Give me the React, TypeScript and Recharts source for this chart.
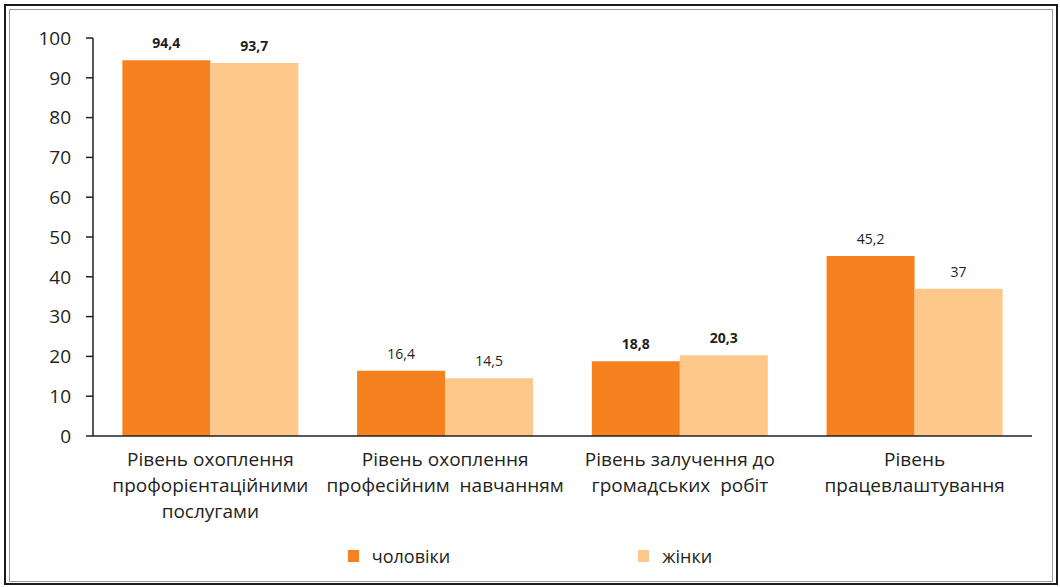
import React from 'react';
import { BarChart, Bar, XAxis, YAxis, LabelList, Legend } from 'recharts';

const categories = [
  'Рівень охоплення профорієнтаційними послугами',
  'Рівень охоплення професійним навчанням',
  'Рівень залучення до громадських робіт',
  'Рівень працевлаштування',
];
const categoryLines = [
  ['Рівень охоплення', 'профорієнтаційними', 'послугами'],
  ['Рівень охоплення', 'професійним  навчанням'],
  ['Рівень залучення до', 'громадських  робіт'],
  ['Рівень', 'працевлаштування'],
];
const men = [94.4, 16.4, 18.8, 45.2];
const women = [93.7, 14.5, 20.3, 37];
const yTicks = [0, 10, 20, 30, 40, 50, 60, 70, 80, 90, 100];
const boundaryTicks = [0, 1, 2, 3, 4];
// the source prints the labels of these groups in bold
const boldGroups = [0, 2];

const MEN_COLOR = '#f5821f';
const WOMEN_COLOR = '#fdc88a';
const INK = '#231f20';
const FONT = '"Open Sans", "Noto Sans", sans-serif';

const data = categories.map((name, i) => ({ name, idx: i, men: men[i], women: women[i] }));

const fmt = (v: number) => String(v).replace('.', ',');

const CategoryTick = (props: any) => {
  const { x, y, index } = props;
  const lines = categoryLines[index] || [];
  return (
    <text x={x} y={y} textAnchor="middle" fill={INK} fontSize={19} fontFamily={FONT}>
      {lines.map((l, i) => (
        <tspan key={i} x={x} dy={i === 0 ? 14 : 26} style={{ whiteSpace: 'pre' }}>
          {l}
        </tspan>
      ))}
    </text>
  );
};

const makeLabel = (dataKey: 'men' | 'women') => (props: any) => {
  const { x, y, width, index } = props;
  const v = data[index][dataKey];
  return (
    <text
      x={x + width / 2}
      y={y - 12}
      textAnchor="middle"
      fill={INK}
      fontSize={14}
      fontFamily={FONT}
      fontWeight={boldGroups.includes(index) ? 700 : 400}
    >
      {fmt(v)}
    </text>
  );
};

const LegendContent = () => (
  <div style={{ display: 'flex', justifyContent: 'center', fontFamily: FONT, fontSize: 18, color: INK }}>
    {[
      { label: 'чоловіки', color: MEN_COLOR },
      { label: 'жінки', color: WOMEN_COLOR },
    ].map((it, i) => (
      <div key={it.label} style={{ display: 'flex', alignItems: 'center', marginRight: i === 0 ? 188 : 0 }}>
        <span style={{ width: 11, height: 12, background: it.color, display: 'inline-block', marginRight: 13 }} />
        <span>{it.label}</span>
      </div>
    ))}
  </div>
);

export default function App() {
  return (
    <div style={{ position: 'absolute', left: 0, top: 0, width: 1060, height: 587, background: '#fff' }}>
      <div
        style={{
          position: 'absolute',
          left: 4,
          top: 4,
          width: 1050,
          height: 577,
          border: '2px solid #1a1a1a',
        }}
      />
      <div
        style={{
          position: 'absolute',
          left: 9,
          top: 9,
          width: 1042,
          height: 571,
          border: '1px solid #9a9a9a',
        }}
      />
      <div style={{ position: 'absolute', left: 0, top: 0 }}>
        <BarChart
          width={1060}
          height={587}
          data={data}
          margin={{ top: 38, right: 28, left: 0, bottom: 13 }}
          barCategoryGap="12.5%"
          barGap={0}
        >
          <XAxis
            xAxisId="bound"
            type="number"
            domain={[0, 4]}
            ticks={boundaryTicks}
            tick={false}
            tickSize={7}
            height={8}
            stroke={INK}
            strokeWidth={1.5}
          />
          <XAxis
            xAxisId="xcat"
            dataKey="name"
            axisLine={false}
            tickLine={false}
            height={100}
            interval={0}
            tick={<CategoryTick />}
          />
          <YAxis
            domain={[0, 100]}
            ticks={yTicks}
            width={93}
            tickSize={7}
            tickMargin={15}
            stroke={INK}
            strokeWidth={1.5}
            tick={{ fill: INK, fontSize: 19, fontFamily: FONT }}
            interval={0}
          />
          <Legend verticalAlign="bottom" height={30} content={<LegendContent />} wrapperStyle={{ left: 0, width: 1060 }} />
          <Bar xAxisId="xcat" dataKey="men" fill={MEN_COLOR} isAnimationActive={false}>
            <LabelList dataKey="men" content={makeLabel('men')} />
          </Bar>
          <Bar xAxisId="xcat" dataKey="women" fill={WOMEN_COLOR} isAnimationActive={false}>
            <LabelList dataKey="women" content={makeLabel('women')} />
          </Bar>
        </BarChart>
      </div>
    </div>
  );
}
